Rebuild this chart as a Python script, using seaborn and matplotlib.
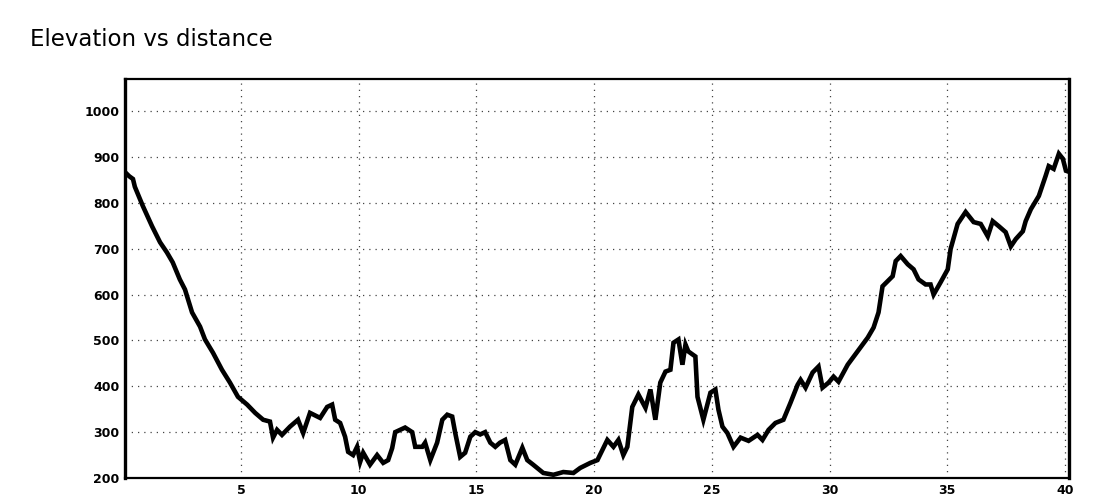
import matplotlib
matplotlib.use("Agg")
import matplotlib.pyplot as plt
import pandas as pd
import seaborn as sns

# distance (km) and elevation (m)
distance = [0.07, 0.25, 0.41, 0.49, 0.83, 1.22, 1.56, 1.85, 2.1, 2.4,
            2.62, 2.92, 3.26, 3.47, 3.81, 4.19, 4.53, 4.87, 5.26, 5.6,
            5.94, 6.23, 6.36, 6.53, 6.74, 7.08, 7.42, 7.64, 7.93, 8.36,
            8.66, 8.87, 9.0, 9.21, 9.42, 9.55, 9.76, 9.93, 10.06, 10.19,
            10.48, 10.78, 11.04, 11.25, 11.42, 11.55, 11.76, 11.97, 12.27, 12.4,
            12.7, 12.82, 13.04, 13.33, 13.55, 13.76, 13.97, 14.1, 14.31, 14.52,
            14.74, 14.95, 15.16, 15.37, 15.59, 15.8, 16.0, 16.22, 16.44, 16.65,
            16.95, 17.16, 17.41, 17.84, 18.27, 18.69, 19.12, 19.41, 19.84, 20.14,
            20.56, 20.82, 21.03, 21.24, 21.41, 21.62, 21.88, 22.18, 22.39, 22.6,
            22.81, 23.03, 23.24, 23.37, 23.58, 23.75, 23.88, 24.0, 24.3, 24.39,
            24.64, 24.94, 25.15, 25.28, 25.45, 25.66, 25.92, 26.22, 26.56, 26.94,
            27.15, 27.41, 27.7, 28.04, 28.34, 28.64, 28.77, 28.98, 29.28, 29.53,
            29.7, 29.96, 30.17, 30.38, 30.77, 31.19, 31.62, 31.87, 32.08, 32.25,
            32.68, 32.81, 33.02, 33.32, 33.57, 33.78, 34.08, 34.29, 34.42, 34.72,
            35.02, 35.14, 35.44, 35.78, 36.12, 36.42, 36.72, 36.93, 37.19, 37.48,
            37.7, 37.91, 38.21, 38.33, 38.55, 38.89, 39.18, 39.31, 39.52, 39.74,
            39.91, 40.04, 40.15]
elevation = [867, 858, 852, 835, 793, 749, 714, 692, 670, 633,
             611, 561, 530, 502, 473, 436, 408, 377, 360, 342,
             327, 323, 288, 305, 294, 312, 327, 298, 342, 331,
             355, 360, 327, 320, 290, 257, 250, 268, 235, 255,
             229, 250, 233, 239, 265, 300, 305, 310, 300, 268,
             268, 277, 239, 277, 327, 338, 334, 298, 246, 255,
             290, 300, 295, 300, 277, 268, 277, 283, 239, 229,
             266, 239, 229, 211, 207, 213, 211, 222, 233, 239,
             283, 268, 283, 250, 268, 355, 382, 353, 393, 327,
             408, 432, 436, 495, 502, 447, 491, 476, 465, 377,
             327, 386, 393, 349, 312, 298, 268, 288, 281, 294,
             283, 305, 320, 327, 364, 403, 414, 397, 430, 443,
             397, 408, 421, 410, 447, 476, 506, 528, 561, 618,
             640, 673, 684, 666, 655, 633, 622, 622, 600, 627,
             655, 699, 754, 780, 758, 754, 727, 760, 749, 736,
             705, 721, 738, 760, 786, 815, 859, 880, 874, 907,
             896, 870, 868]

x_ticks = [5, 10, 15, 20, 25, 30, 35, 40]
y_ticks = [200, 300, 400, 500, 600, 700, 800, 900, 1000]

df = pd.DataFrame({"distance": distance, "elevation": elevation})

sns.set_style("white")
plt.rcParams['font.family'] = ['DejaVu Sans']

fig = plt.figure(figsize=(11, 5), dpi=100)
ax = fig.add_axes([0.1136, 0.044, 0.8582, 0.798])

sns.lineplot(data=df, x="distance", y="elevation", ax=ax,
             color="black", linewidth=3.3, solid_joinstyle="miter")

ax.set_xlim(0.07, 40.17)
ax.set_ylim(200, 1070)
ax.set_xticks(x_ticks)
ax.set_yticks(y_ticks)
ax.set_xlabel("")
ax.set_ylabel("")
ax.tick_params(axis="both", length=0, labelsize=9, pad=4, colors="black")
for lab in ax.get_xticklabels() + ax.get_yticklabels():
    lab.set_fontweight("bold")
ax.grid(True, color="#444444", linestyle=(0, (1, 4)), linewidth=0.9)

for side, w in [("left", 2.4), ("right", 2.4), ("top", 1.6), ("bottom", 1.6)]:
    ax.spines[side].set_visible(True)
    ax.spines[side].set_color("black")
    ax.spines[side].set_linewidth(w)

fig.text(30 / 1100, 1 - 40 / 500, "Elevation vs distance",
         fontsize=16.5, color="black", va="center", ha="left")

fig.savefig("out.png", dpi=100)
